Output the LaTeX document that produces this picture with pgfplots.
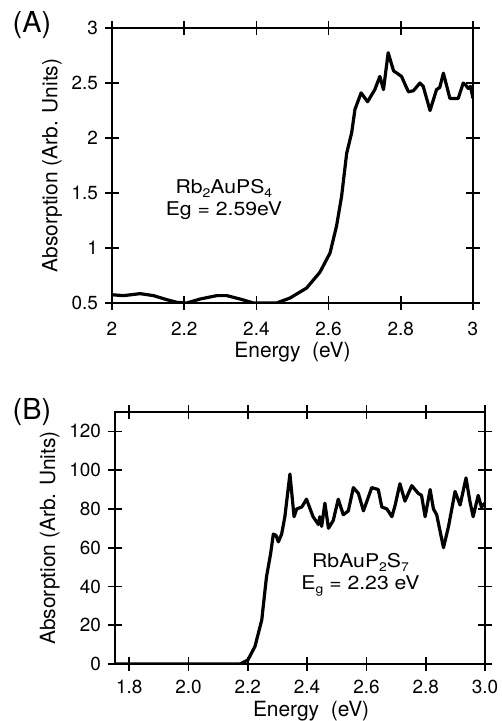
\documentclass[border=0pt]{standalone}
\usepackage{fontspec}
\setmainfont{TeX Gyre Heros}
\newfontfamily\annfont{TeX Gyre Heros}[FakeStretch=1.12]
\usepackage{pgfplots}
\pgfplotsset{compat=1.18}
\newcommand\sub[1]{\raisebox{-4bp}{\fontsize{12.5}{12.5}\selectfont #1}}
\begin{document}
\fontsize{21}{24}\selectfont
\begin{tikzpicture}
\path[use as bounding box] (0,0) rectangle (502bp,-721bp);
\pgfplotsset{myax/.style={scale only axis, anchor=south west,
  axis line style={line width=1.7bp},
  tick style={line width=1.7bp, black},
  tick align=center, major tick length=14bp,
  tick label style={font=\fontsize{19}{22}\selectfont},
  label style={font=\fontsize{21}{24}\selectfont},
  /pgf/number format/assume math mode=true,
}}
\tikzset{curve/.style={black, no marks, line width=3.2bp, line join=round},
  ann/.style={align=center, font=\annfont\fontsize{19}{22}\selectfont}}
% Panel A
\begin{axis}[myax, at={(112bp,-303bp)}, width=361bp, height=275bp,
  xmin=2, xmax=3, ymin=0.5, ymax=3,
  xtick={2,2.2,2.4,2.6,2.8,3}, ytick={0.5,1,1.5,2,2.5,3},
  xticklabel style={yshift=-5bp},
  xlabel={Energy\ \ (eV)}, ylabel={Absorption (Arb. Units)},
  every axis x label/.style={at={(axis description cs:0.5,-0.178)}, anchor=center},
  every axis y label/.style={at={(axis description cs:-0.166,0.5)}, rotate=90, anchor=center},
  clip=true]
\addplot[curve] coordinates {
(2.000,0.575) (2.032,0.567) (2.078,0.585) (2.115,0.567) (2.152,0.530) (2.180,0.506)
(2.207,0.500) (2.244,0.536) (2.290,0.567) (2.318,0.567) (2.355,0.536) (2.392,0.500)
(2.456,0.500) (2.493,0.545) (2.539,0.636) (2.576,0.780) (2.604,0.955) (2.622,1.200)
(2.636,1.470) (2.650,1.860) (2.664,2.050) (2.673,2.260) (2.690,2.410) (2.708,2.330)
(2.728,2.440) (2.742,2.560) (2.752,2.440) (2.765,2.775) (2.780,2.610) (2.789,2.590)
(2.802,2.560) (2.821,2.420) (2.835,2.430) (2.853,2.500) (2.862,2.470) (2.881,2.250)
(2.899,2.440) (2.908,2.460) (2.918,2.590) (2.936,2.360) (2.959,2.360) (2.973,2.500)
(2.980,2.480) (2.987,2.450) (2.993,2.470) (3.000,2.360)
};
\node[ann] at (axis cs:2.31,1.44)
  {Rb\sub{2}AuPS\sub{4}\\Eg = 2.59eV};
\end{axis}
\node[font=\fontsize{29}{32}\selectfont] at (32bp,-25bp) {(A)};
% Panel B
\begin{axis}[myax, at={(115bp,-664bp)}, width=370bp, height=252bp,
  xmin=1.752, xmax=3.0, ymin=0, ymax=130,
  xtick={1.8,2.0,2.2,2.4,2.6,2.8,3.0}, ytick={0,20,40,60,80,100,120},
  xticklabel style={yshift=-2bp, /pgf/number format/.cd, fixed, fixed zerofill, precision=1},
  xlabel={Energy\ \ (eV)}, ylabel={Absorption (Arb. Units)},
  every axis x label/.style={at={(axis description cs:0.53,-0.186)}, anchor=center},
  every axis y label/.style={at={(axis description cs:-0.176,0.5)}, rotate=90, anchor=center},
  clip=true]
\addplot[curve] coordinates {
(1.752,0) (2.173,0) (2.200,2) (2.224,9) (2.247,22.7) (2.263,45) (2.277,57) (2.286,67)
(2.295,66.4) (2.303,63) (2.314,67) (2.325,76) (2.342,98) (2.356,76) (2.365,80) (2.382,81)
(2.398,85) (2.420,76) (2.438,72) (2.443,76) (2.449,71) (2.460,83) (2.472,70) (2.488,74)
(2.505,85) (2.522,77) (2.539,79) (2.556,91) (2.573,88) (2.590,79) (2.618,91) (2.640,90)
(2.652,81) (2.669,80) (2.686,76) (2.697,82) (2.713,93) (2.730,84) (2.753,92) (2.775,88)
(2.786,87) (2.798,76) (2.815,90) (2.826,80) (2.837,77) (2.860,60) (2.877,71) (2.899,89)
(2.916,82) (2.936,96) (2.949,84) (2.960,76) (2.977,87) (2.988,81) (3.000,83)
};
\node[ann] at (axis cs:2.58,46)
  {RbAuP\sub{2}S\sub{7}\\E\sub{g} = 2.23 eV};
\end{axis}
\node[font=\fontsize{29}{32}\selectfont] at (32bp,-412bp) {(B)};
\end{tikzpicture}
\end{document}
